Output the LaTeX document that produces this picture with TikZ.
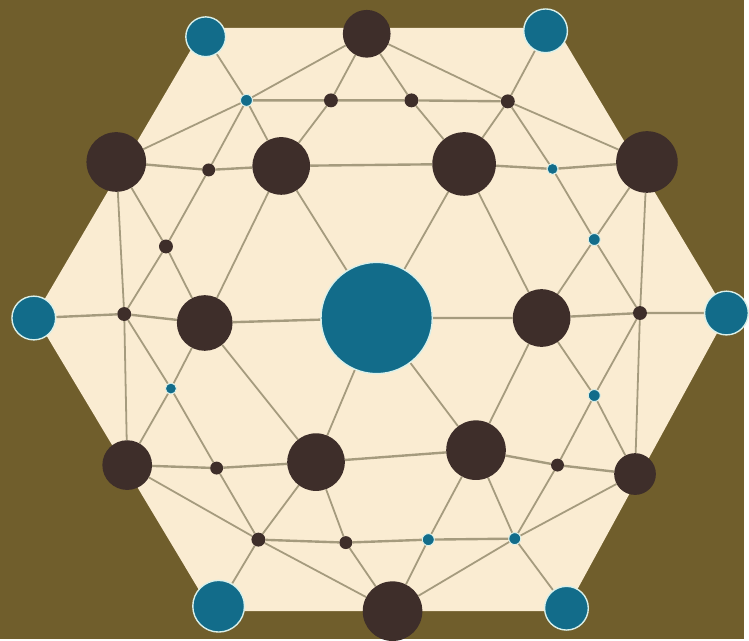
\documentclass[tikz,border=0pt]{standalone}
\usetikzlibrary{backgrounds}
\definecolor{bgolive}{RGB}{112,94,44}
\definecolor{creamc}{RGB}{250,236,210}
\definecolor{tealc}{RGB}{18,108,138}
\definecolor{darkc}{RGB}{62,46,42}
\definecolor{linec}{RGB}{165,155,126}
\definecolor{haloc}{RGB}{218,240,234}
\tikzset{
  atom/.style={circle, inner sep=0pt, minimum size=#1},
  tealatom/.style={atom=#1, fill=tealc, draw=haloc, line width=1.4pt},
  tealdot/.style={atom=#1, fill=tealc, draw=haloc, line width=0.9pt},
  darkatom/.style={atom=#1, fill=darkc},
  bond/.style={draw=linec, line width=1.8pt},
  hbond/.style={draw=linec, line width=2.4pt}
}
\begin{document}
\begin{tikzpicture}[x=1pt,y=-1pt]
% teal corner atoms and centre
\node[tealatom=40] (tA) at (207,37) {};
\node[tealatom=44] (tB) at (549,31) {};
\node[tealatom=44] (tC) at (731,315) {};
\node[tealatom=44] (tD) at (570,612) {};
\node[tealatom=52] (tE) at (220,610) {};
\node[tealatom=44] (tF) at (34,320) {};
\node[tealatom=112] (cen) at (379,320) {};
% large dark atoms
\node[darkatom=48] (d1) at (369,34) {};
\node[darkatom=60] (d2) at (117,163) {};
\node[darkatom=58] (d3) at (283,167) {};
\node[darkatom=64] (d4) at (467,165) {};
\node[darkatom=62] (d5) at (651,163) {};
\node[darkatom=56] (d6) at (206,325) {};
\node[darkatom=58] (d7) at (545,320) {};
\node[darkatom=50] (d8) at (128,468) {};
\node[darkatom=58] (d9) at (318,465) {};
\node[darkatom=60] (d10) at (479,453) {};
\node[darkatom=42] (d11) at (639,477) {};
\node[darkatom=60] (d12) at (395,615) {};
% small dark atoms
\node[darkatom=14] (s1) at (333,101) {};
\node[darkatom=14] (s2) at (414,101) {};
\node[darkatom=14] (s3) at (511,102) {};
\node[darkatom=13] (s4) at (210,171) {};
\node[darkatom=14] (s5) at (167,248) {};
\node[darkatom=14] (s6) at (125,316) {};
\node[darkatom=14] (s7) at (644,315) {};
\node[darkatom=13] (s8) at (218,471) {};
\node[darkatom=14] (s9) at (260,543) {};
\node[darkatom=13] (s10) at (348,546) {};
\node[darkatom=13] (s11) at (561,468) {};
% small teal atoms
\node[tealdot=12] (u1) at (248,101) {};
\node[tealdot=11] (u2) at (556,170) {};
\node[tealdot=12] (u3) at (598,241) {};
\node[tealdot=11] (u4) at (172,391) {};
\node[tealdot=12] (u5) at (598,398) {};
\node[tealdot=12] (u6) at (431,543) {};
\node[tealdot=12] (u7) at (518,542) {};

\begin{scope}[on background layer]
\fill[bgolive] (0,0) rectangle (749,643);
\fill[creamc] (205,28) -- (560,28) -- (732,316) -- (569,615) -- (213,615) -- (35,318) -- cycle;
% horizontal bonds
\draw[hbond] (u1) -- (s1) -- (s2) -- (s3);
\draw[hbond] (d2) -- (s4) -- (d3) -- (d4) -- (u2) -- (d5);
\draw[hbond] (tF) -- (s6) -- (d6) -- (cen) -- (d7) -- (s7) -- (tC);
\draw[hbond] (d8) -- (s8) -- (d9) -- (d10) -- (s11) -- (d11);
\draw[hbond] (s9) -- (s10) -- (u6) -- (u7);
% vertical bonds
\draw[bond] (d2) -- (s6) -- (d8);
\draw[bond] (d5) -- (s7) -- (d11);
% radial bonds
\draw[bond] (tA) -- (u1) -- (d3) -- (cen);
\draw[bond] (tB) -- (s3) -- (d4) -- (cen);
\draw[bond] (tE) -- (s9) -- (d9) -- (cen);
\draw[bond] (tD) -- (u7) -- (d10) -- (cen);
% shallow diagonals
\draw[bond] (d2) -- (u1) -- (d1);
\draw[bond] (d1) -- (s3) -- (d5);
\draw[bond] (d8) -- (s9) -- (d12);
\draw[bond] (d12) -- (u7) -- (d11);
% steep diagonals through small atoms
\draw[bond] (u1) -- (s4) -- (s5) -- (s6);
\draw[bond] (s3) -- (u2) -- (u3) -- (s7);
\draw[bond] (s6) -- (u4) -- (s8) -- (s9);
\draw[bond] (s7) -- (u5) -- (s11) -- (u7);
\draw[bond] (d2) -- (s5) -- (d6);
\draw[bond] (d5) -- (u3) -- (d7);
\draw[bond] (d8) -- (u4) -- (d6);
\draw[bond] (d11) -- (u5) -- (d7);
\draw[bond] (d1) -- (s1) -- (d3);
\draw[bond] (d1) -- (s2) -- (d4);
\draw[bond] (d12) -- (s10) -- (d9);
\draw[bond] (d12) -- (u6) -- (d10);
% inner ring
\draw[bond] (d3) -- (d6) -- (d9);
\draw[bond] (d4) -- (d7) -- (d10);
\end{scope}
\end{tikzpicture}
\end{document}
